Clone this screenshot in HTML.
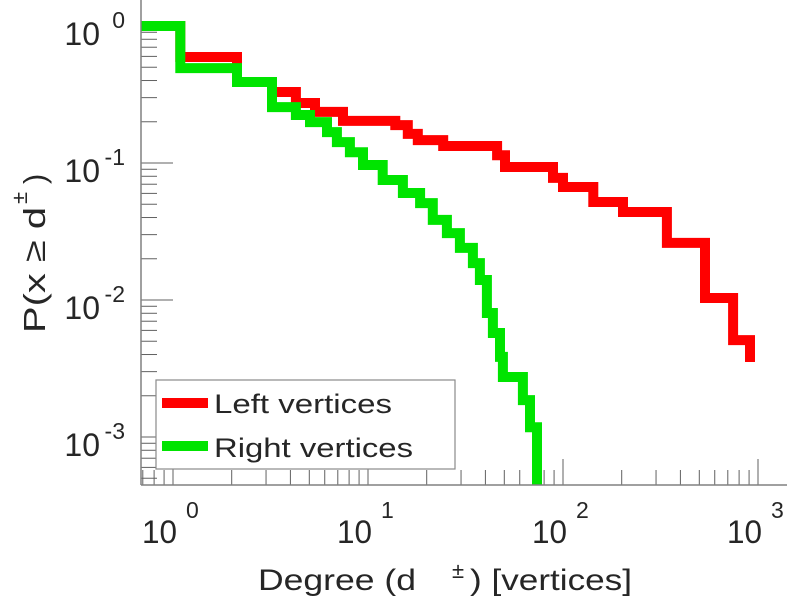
<!DOCTYPE html>
<html>
<head>
<meta charset="utf-8">
<style>
  html, body { margin: 0; padding: 0; background: #ffffff; }
  svg { display: block; }
  text { font-family: "Liberation Sans", "DejaVu Sans", sans-serif; fill: #262626; }
</style>
</head>
<body>
<svg id="chart" width="787" height="600" viewBox="0 0 787 600" xmlns="http://www.w3.org/2000/svg">
  <defs>
    <clipPath id="plotClip"><rect x="141" y="0" width="646" height="485"/></clipPath>
  </defs>
  <g id="ticks"></g>
  <g id="series" clip-path="url(#plotClip)"></g>
  <line x1="141" y1="0" x2="141" y2="485" stroke="#808080" stroke-width="1.5"/>
  <line x1="141" y1="485" x2="787" y2="485" stroke="#808080" stroke-width="1.5"/>
  <g id="labels"></g>

  <g>
    <rect x="156" y="380" width="299" height="89" fill="#ffffff" stroke="#8a8a8a" stroke-width="1.2"/>
    <line x1="162" y1="403" x2="208" y2="403" stroke="#ff0000" stroke-width="10"/>
    <text x="214" y="413" font-size="27" textLength="178" lengthAdjust="spacingAndGlyphs">Left vertices</text>
    <line x1="162" y1="446" x2="208" y2="446" stroke="#00e400" stroke-width="10"/>
    <text x="214" y="457" font-size="27" textLength="199" lengthAdjust="spacingAndGlyphs">Right vertices</text>
  </g>

  <g>
    <text x="258" y="590" font-size="30" textLength="158" lengthAdjust="spacingAndGlyphs">Degree (d</text>
    <text x="452" y="578" font-size="22">±</text>
    <text x="470" y="590" font-size="30" textLength="162" lengthAdjust="spacingAndGlyphs">) [vertices]</text>
  </g>
  <g transform="rotate(-90)">
    <text x="-333" y="45" font-size="31" textLength="126" lengthAdjust="spacingAndGlyphs">P(x ≥ d</text>
    <text x="-204" y="27" font-size="22">±</text>
    <text x="-184" y="45" font-size="31">)</text>
  </g>
</svg>
<script>
// ---- data ----
const leftDegrees = [0.68, 1.09, 2.13, 3.22, 4.27, 5.35, 7.44, 13.8, 16.0, 18.0, 24.3, 45.9, 50.4, 88.9, 100, 143, 203, 341, 535, 745, 910];
const leftProb    = [1.0, 0.594, 0.39, 0.33, 0.274, 0.236, 0.203, 0.189, 0.163, 0.147, 0.133, 0.114, 0.0935, 0.0778, 0.0668, 0.0519, 0.0439, 0.0261, 0.01035, 0.0051, 0.00353];
const rightDegrees = [0.68, 1.09, 2.13, 3.22, 4.27, 5.04, 6.16, 6.93, 8.08, 9.43, 11.9, 15.1, 18.5, 21.5, 25.4, 29.6, 34.5, 37.5, 40.7, 43.7, 47.5, 49.2, 62.3, 67.7, 73.6];
const rightProb    = [1.0, 0.493, 0.39, 0.256, 0.224, 0.199, 0.168, 0.142, 0.120, 0.0967, 0.0751, 0.0604, 0.051, 0.0384, 0.0308, 0.024, 0.0186, 0.014, 0.00804, 0.00574, 0.00384, 0.00274, 0.00186, 0.00118, 0.0004];
const xTickValues = [1, 10, 100, 1000];
const xTickExps = ["0", "1", "2", "3"];
const yTickValues = [1, 0.1, 0.01, 0.001];
const yTickExps = ["0", "-1", "-2", "-3"];

// ---- scales ----
function xs(d) { return 173 + 195 * Math.log10(d); }
function ys(p) { return 26 - 137 * Math.log10(p); }

const NS = "http://www.w3.org/2000/svg";
const ticksG = document.getElementById('ticks');
const seriesG = document.getElementById('series');
const labelsG = document.getElementById('labels');

function mk(tag, attrs, parent) {
  const e = document.createElementNS(NS, tag);
  for (const k in attrs) e.setAttribute(k, attrs[k]);
  parent.appendChild(e);
  return e;
}

// x ticks
for (let k = -1; k <= 3; k++) {
  for (let m = 1; m <= 9; m++) {
    const v = m * Math.pow(10, k);
    const x = xs(v);
    if (x < 142 || x > 786) continue;
    const major = (m === 1);
    const t = mk('line', {x1: x, x2: x, y1: 485, y2: major ? 459 : 470, stroke: '#606060', 'stroke-width': 1}, ticksG);
    
    
  }
}
// y ticks
for (let k = -4; k <= 0; k++) {
  for (let m = 1; m <= 9; m++) {
    const v = m * Math.pow(10, k);
    const y = ys(v);
    if (y < 1 || y > 484) continue;
    const major = (m === 1);
    const t = mk('line', {x1: 141, x2: major ? 173 : 157, y1: y, y2: y, stroke: '#606060', 'stroke-width': 1}, ticksG);
    
    
  }
}

// x tick labels
xTickValues.forEach((v, i) => {
  const x = xs(v);
  const t = mk('text', {x: x - 31, y: 543, 'font-size': 32, textLength: 35, lengthAdjust: 'spacingAndGlyphs'}, labelsG);
  t.textContent = '10';
  
  
  const s = mk('text', {x: x - 31 + 44, y: 518, 'font-size': 23}, labelsG);
  s.textContent = xTickExps[i];
  
  
});
// y tick labels
yTickValues.forEach((v, i) => {
  const y = ys(v);
  const t = mk('text', {x: 100, y: y + 19, 'font-size': 32, 'text-anchor': 'end'}, labelsG);
  t.textContent = '10';
  
  
  const s = mk('text', {x: 125, y: y + 2, 'font-size': 23, 'text-anchor': 'end'}, labelsG);
  s.textContent = yTickExps[i];
  
  
});

// stair series
function stairPath(ds, ps) {
  let d = 'M' + xs(ds[0]).toFixed(1) + ',' + ys(ps[0]).toFixed(1);
  for (let i = 1; i < ds.length; i++) {
    d += ' H' + xs(ds[i]).toFixed(1) + ' V' + ys(ps[i]).toFixed(1);
  }
  return d;
}
const red = mk('path', {d: stairPath(leftDegrees, leftProb), fill: 'none', stroke: '#ff0000', 'stroke-width': 10, 'stroke-linejoin': 'miter'}, seriesG);


const green = mk('path', {d: stairPath(rightDegrees, rightProb), fill: 'none', stroke: '#00e400', 'stroke-width': 10, 'stroke-linejoin': 'miter'}, seriesG);


</script>
</body>
</html>
